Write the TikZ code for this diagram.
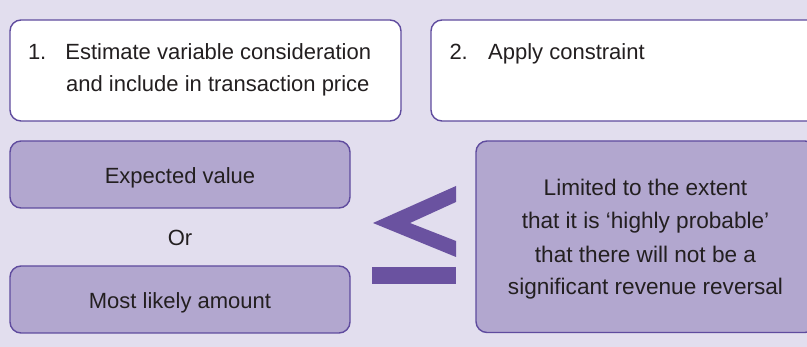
\documentclass[tikz,border=0pt]{standalone}
\usepackage{fontspec}
\setmainfont{Liberation Sans}
\definecolor{bg}{HTML}{E2DEEE}
\definecolor{pfill}{HTML}{B2A7CF}
\definecolor{pline}{HTML}{5F4B9E}
\definecolor{chev}{HTML}{6A52A0}
\definecolor{txt}{HTML}{231F20}
\begin{document}
\begin{tikzpicture}[x=1pt,y=-1pt,
  box/.style={draw=pline,line width=1.4pt,rounded corners=11pt,inner sep=0pt,outer sep=0pt,anchor=north west},
  whitebox/.style={box,fill=white},
  purplebox/.style={box,fill=pfill},
  lbl/.style={inner sep=0pt,anchor=base west,text=txt,font=\fontsize{22}{26}\selectfont},
  clbl/.style={lbl,anchor=base},
  rlbl/.style={clbl,font=\fontsize{22.6}{27}\selectfont}]
\useasboundingbox[fill=bg] (0,0) rectangle (807,347);
\begin{scope}
\clip (0,0) rectangle (807,347);
% boxes
\node[whitebox,minimum width=391pt,minimum height=101pt] (b1) at (10,20) {};
\node[whitebox,minimum width=390pt,minimum height=101pt] (b2) at (431,20) {};
\node[purplebox,minimum width=340pt,minimum height=67pt] (ev) at (10,141) {};
\node[purplebox,minimum width=340pt,minimum height=67pt] (ml) at (10,266) {};
\node[purplebox,minimum width=340pt,minimum height=191.5pt] (lim) at (476,141) {};
% less-or-equal sign
\fill[chev] (373,223) -- (456,186) -- (456,202) -- (410,223) -- (456,241) -- (456,257) -- cycle;
\fill[chev] (372,267) rectangle (456,284);
% texts
\node[lbl] (n1) at (27.8,59.3) {1.};
\node[lbl] (t1a) at (65.2,59.3) {Estimate variable consideration};
\node[lbl] (t1b) at (66,91.7) {and include in transaction price};
\node[lbl] (n2) at (449.3,59.3) {2.};
\node[lbl] (t2) at (488,59.3) {Apply constraint};
\node[clbl] (tev) at (180,184) {Expected value};
\node[clbl] (tor) at (180,246) {Or};
\node[clbl] (tml) at (180,308.3) {Most likely amount};
\node[rlbl] (l1) at (645.5,196) {Limited to the extent};
\node[rlbl] (l2) at (645.5,229) {that it is ‘highly probable’};
\node[rlbl] (l3) at (645.5,262.3) {that there will not be a};
\node[rlbl] (l4) at (645.5,295) {significant revenue reversal};
\end{scope}
\end{tikzpicture}
\end{document}
